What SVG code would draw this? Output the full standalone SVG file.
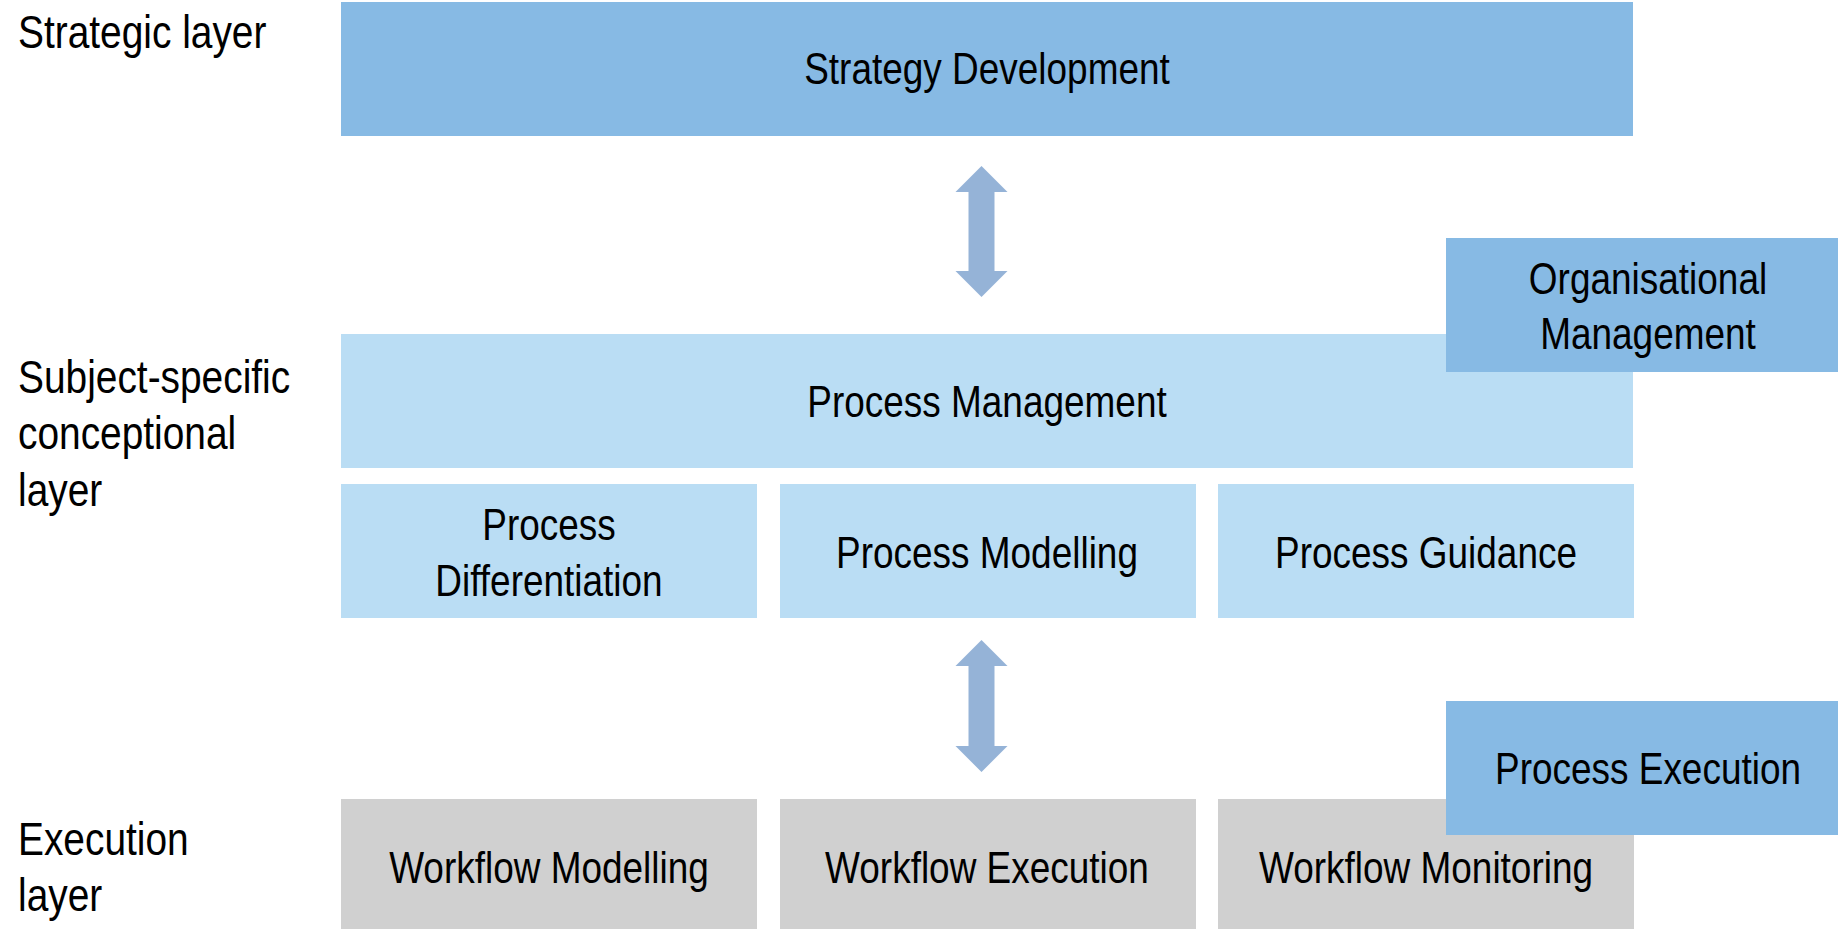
<svg xmlns="http://www.w3.org/2000/svg" width="1838" height="929" viewBox="0 0 1838 929">
<style>
text{font-family:"Liberation Sans","Arial",sans-serif;font-size:44px;fill:#000}
.lbl{font-size:46px}
.c{text-anchor:middle}
.dark{fill:#87BAE4}
.light{fill:#BADDF4}
.grey{fill:#D0D0D0}
.arr{fill:#95B3D7}
</style>
<rect width="1838" height="929" fill="#fff"/>
<g id="labels">
<text class="lbl" transform="translate(18 48) scale(0.845 1)">Strategic layer</text>
<text class="lbl" transform="translate(18 393) scale(0.845 1)">Subject-specific</text>
<text class="lbl" transform="translate(18 449) scale(0.845 1)">conceptional</text>
<text class="lbl" transform="translate(18 506) scale(0.845 1)">layer</text>
<text class="lbl" transform="translate(18 855) scale(0.845 1)">Execution</text>
<text class="lbl" transform="translate(18 911) scale(0.845 1)">layer</text>
</g>
<g id="strategy"><rect class="dark" x="341" y="2" width="1292" height="134"/><text class="c" transform="translate(987 84) scale(0.84 1)">Strategy Development</text></g>
<g id="process-management"><rect class="light" x="341" y="334" width="1292" height="134"/><text class="c" transform="translate(987 417) scale(0.84 1)">Process Management</text></g>
<g id="org-management"><rect class="dark" x="1446" y="238" width="404" height="134"/><text class="c" transform="translate(1648 294) scale(0.84 1)">Organisational</text><text class="c" transform="translate(1648 349) scale(0.84 1)">Management</text></g>
<g id="process-differentiation"><rect class="light" x="341" y="484" width="416" height="134"/><text class="c" transform="translate(549 540) scale(0.84 1)">Process</text><text class="c" transform="translate(549 596) scale(0.84 1)">Differentiation</text></g>
<g id="process-modelling"><rect class="light" x="780" y="484" width="416" height="134"/><text class="c" transform="translate(987 568) scale(0.84 1)">Process Modelling</text></g>
<g id="process-guidance"><rect class="light" x="1218" y="484" width="416" height="134"/><text class="c" transform="translate(1426 568) scale(0.84 1)">Process Guidance</text></g>
<g id="workflow-modelling"><rect class="grey" x="341" y="799" width="416" height="130"/><text class="c" transform="translate(549 883) scale(0.84 1)">Workflow Modelling</text></g>
<g id="workflow-execution"><rect class="grey" x="780" y="799" width="416" height="130"/><text class="c" transform="translate(987 883) scale(0.84 1)">Workflow Execution</text></g>
<g id="workflow-monitoring"><rect class="grey" x="1218" y="799" width="416" height="130"/><text class="c" transform="translate(1426 883) scale(0.84 1)">Workflow Monitoring</text></g>
<g id="process-execution"><rect class="dark" x="1446" y="701" width="404" height="134"/><text class="c" transform="translate(1648 784) scale(0.84 1)">Process Execution</text></g>
<g id="connectors">
<polygon class="arr" points="981.5,166 1007.5,192 994.5,192 994.5,271 1007.5,271 981.5,297 955.5,271 968.5,271 968.5,192 955.5,192"/>
<polygon class="arr" points="981.5,640 1007.5,666 994.5,666 994.5,746 1007.5,746 981.5,772 955.5,746 968.5,746 968.5,666 955.5,666"/>
</g>
</svg>
